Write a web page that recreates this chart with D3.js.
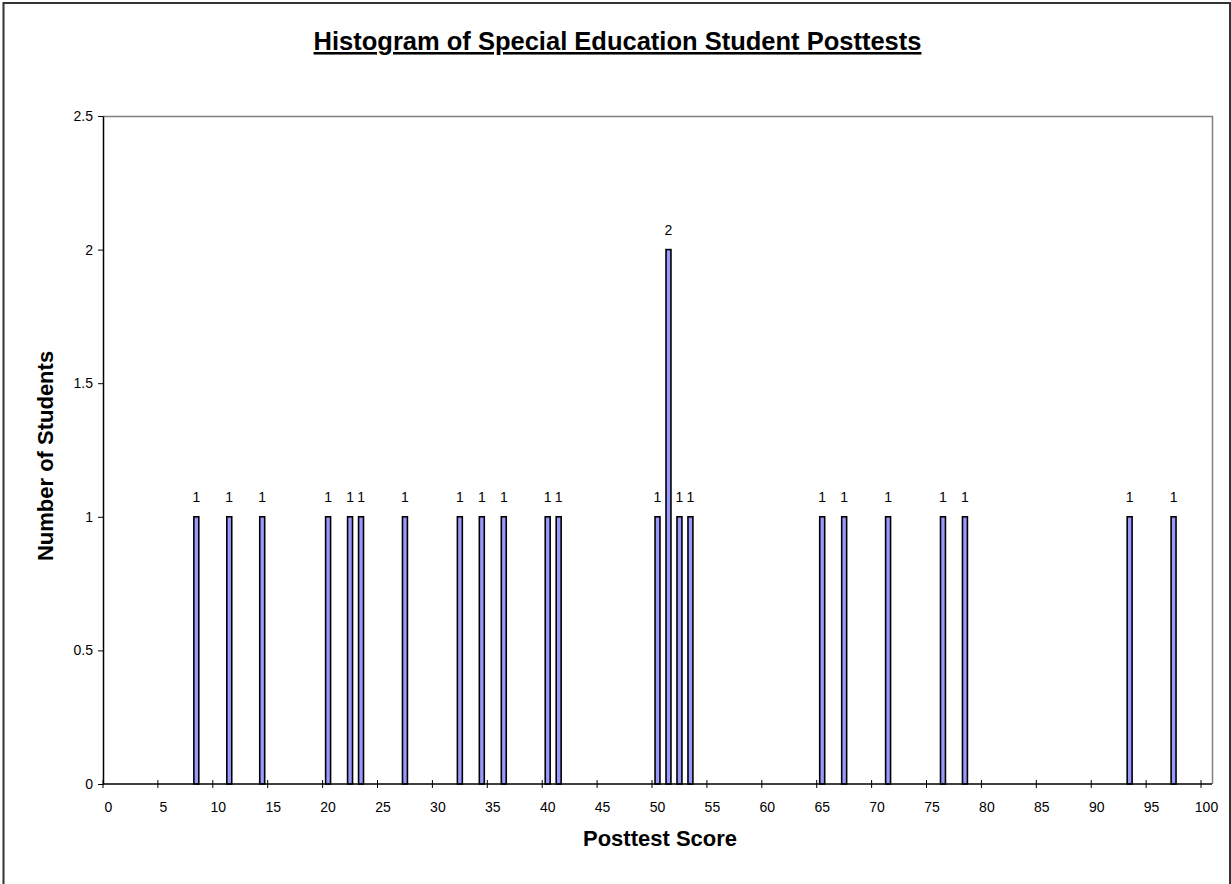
<!DOCTYPE html>
<html>
<head>
<meta charset="utf-8">
<script src="https://cdn.jsdelivr.net/npm/d3@7"></script>
<style>
  html, body { margin: 0; padding: 0; background: #fff; }
  svg { display: block; font-family: Arial, "Liberation Sans", sans-serif; }
</style>
</head>
<body>
<svg id="chart" width="1231" height="884"></svg>
<script>
// ---- data ----
const titleText = "Histogram of Special Education Student Posttests";
const xTitle = "Posttest Score";
const yTitle = "Number of Students";
const scores = [8, 11, 14, 20, 22, 23, 27, 32, 34, 36, 40, 41, 50, 51, 52, 53, 65, 67, 71, 76, 78, 93, 97];
const counts = [1, 1, 1, 1, 1, 1, 1, 1, 1, 1, 1, 1, 1, 2, 1, 1, 1, 1, 1, 1, 1, 1, 1];
const xTickLabels = [0, 5, 10, 15, 20, 25, 30, 35, 40, 45, 50, 55, 60, 65, 70, 75, 80, 85, 90, 95, 100];
const yTickValues = [0, 0.5, 1, 1.5, 2, 2.5];
const categories = d3.range(0, 101);

const data = scores.map((s, i) => ({ score: s, count: counts[i] }));

// ---- layout ----
const svg = d3.select("#chart");
const plot = { left: 103, right: 1212, top: 116, bottom: 784 };
const FONT = "Arial, 'Liberation Sans', sans-serif";

// outer border
svg.append("rect")
  .attr("x", 3.5).attr("y", 3).attr("width", 1226.5).attr("height", 890)
  .attr("fill", "none").attr("stroke", "#333").attr("stroke-width", 2);

const x = d3.scaleBand().domain(categories).range([plot.left, plot.right]).paddingInner(0).paddingOuter(0);
const y = d3.scaleLinear().domain([0, 2.5]).range([plot.bottom, plot.top]);

// plot area border (top & right grey)
svg.append("path")
  .attr("d", `M${plot.left},${plot.top + 0.5}H${plot.right + 0.5}V${plot.bottom}`)
  .attr("fill", "none").attr("stroke", "#808080").attr("stroke-width", 1.5);

// bars
const bw = x.bandwidth() * 0.45;
svg.append("g").selectAll("rect").data(data).join("rect")
  .attr("x", d => x(d.score) + (x.bandwidth() - bw) / 2)
  .attr("y", d => y(d.count))
  .attr("width", bw)
  .attr("height", d => y(0) - y(d.count))
  .attr("fill", "#9999ff")
  .attr("stroke", "#000")
  .attr("stroke-width", 1.6);

// data labels
svg.append("g").selectAll("text").data(data).join("text")
  .attr("x", d => x(d.score) + x.bandwidth() / 2)
  .attr("y", d => y(d.count) - 15)
  .attr("text-anchor", "middle")
  .attr("font-size", 14)
  .attr("fill", "#000")
  .text(d => d.count);

// y axis
const yAxis = d3.axisLeft(y).tickValues(yTickValues).tickSize(5).tickSizeOuter(0).tickFormat(d => d);
const yg = svg.append("g").attr("transform", `translate(${plot.left},0)`).call(yAxis);
yg.select(".domain").attr("stroke", "#000").attr("stroke-width", 1.5);
yg.selectAll(".tick line").attr("stroke", "#000");
yg.selectAll(".tick text").attr("font-size", 14).attr("font-family", FONT).attr("fill", "#000").attr("x", -10);

// x axis: ticks at left edge of each 5th category, labels centered on category
const xg = svg.append("g").attr("transform", `translate(0,${plot.bottom})`);
xg.append("line").attr("x1", plot.left).attr("x2", plot.right).attr("y1", 0).attr("y2", 0)
  .attr("stroke", "#000").attr("stroke-width", 1.5);
const xt = xg.selectAll("g.tick").data(xTickLabels).join("g").attr("class", "tick");
xt.append("line")
  .attr("x1", d => x(d)).attr("x2", d => x(d))
  .attr("y1", -4).attr("y2", 4)
  .attr("stroke", "#000");
xt.append("text")
  .attr("x", d => x(d) + x.bandwidth() / 2)
  .attr("y", 28)
  .attr("text-anchor", "middle")
  .attr("font-size", 14)
  .attr("fill", "#000")
  .text(d => d);

// title
svg.append("text")
  .attr("x", 617.5).attr("y", 50)
  .attr("text-anchor", "middle")
  .attr("font-size", 25.5).attr("font-weight", "bold")
  .attr("text-decoration", "underline")
  .attr("fill", "#000")
  .text(titleText);

// axis titles
svg.append("text")
  .attr("x", 660).attr("y", 846)
  .attr("text-anchor", "middle")
  .attr("font-size", 22).attr("font-weight", "bold")
  .attr("fill", "#000")
  .text(xTitle);

svg.append("text")
  .attr("transform", `translate(53,456) rotate(-90)`)
  .attr("text-anchor", "middle")
  .attr("font-size", 22).attr("font-weight", "bold")
  .attr("fill", "#000")
  .text(yTitle);
</script>
</body>
</html>
